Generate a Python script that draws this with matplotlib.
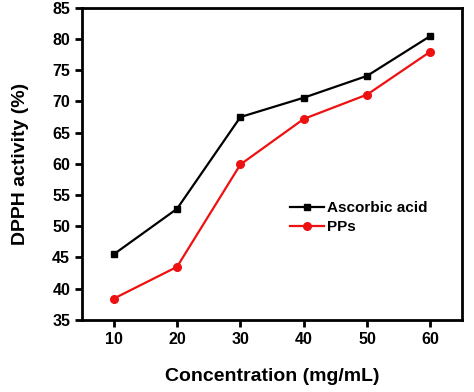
import matplotlib
matplotlib.use("Agg")
import matplotlib.pyplot as plt

# 数据
conc = [10, 20, 30, 40, 50, 60]
ascorbic = [45.5, 52.8, 67.5, 70.6, 74.1, 80.5]
pps = [38.4, 43.5, 59.9, 67.2, 71.1, 78.0]
x_ticks = [10, 20, 30, 40, 50, 60]
y_ticks = [35, 40, 45, 50, 55, 60, 65, 70, 75, 80, 85]

plt.rcParams['font.family'] = ['Liberation Sans', 'DejaVu Sans']
plt.rcParams['font.weight'] = 'bold'

fig = plt.figure(figsize=(4.74, 3.92), dpi=100)
ax = fig.add_axes([0.173, 0.184, 0.802, 0.796])

ax.plot(conc, ascorbic, color='black', marker='s', markersize=5, linewidth=1.6, label='Ascorbic acid')
ax.plot(conc, pps, color='#ee1111', marker='o', markersize=5.5, linewidth=1.6, label='PPs')

ax.set_xlim(5, 65)
ax.set_ylim(35, 85)
ax.set_xticks(x_ticks)
ax.set_yticks(y_ticks)

for s in ax.spines.values():
    s.set_linewidth(2)
ax.tick_params(direction='out', width=2, length=5, labelsize=11.5)
ax.tick_params(top=False, right=False)

ax.set_xlabel('Concentration (mg/mL)', fontsize=14, fontweight='bold', labelpad=15)
ax.set_ylabel('DPPH activity (%)', fontsize=14, fontweight='bold', labelpad=17)

ax.legend(loc='upper left', bbox_to_anchor=(0.527, 0.405), frameon=False,
          fontsize=11, handlelength=2.2, handletextpad=0.2, borderpad=0,
          labelspacing=0.35)

fig.savefig('out.png', dpi=100)
